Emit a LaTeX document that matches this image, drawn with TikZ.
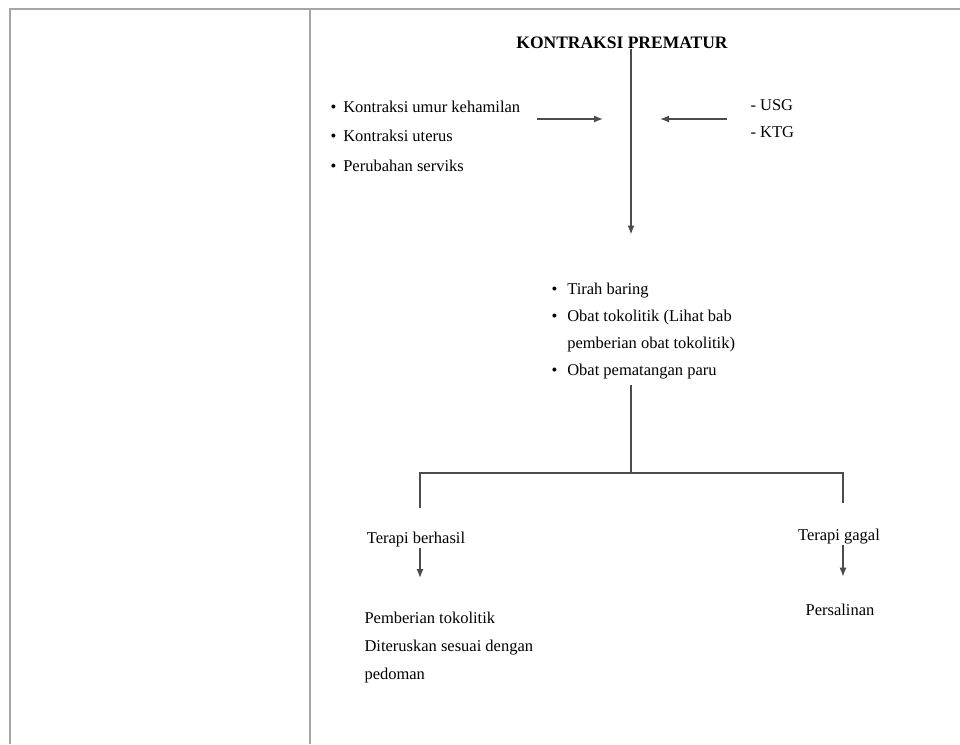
\documentclass[tikz,border=0pt]{standalone}
\usepackage{fontspec}
\setmainfont{Liberation Serif}
\usetikzlibrary{arrows.meta}
\usetikzlibrary{calc}
\tikzset{
every picture/.style={
line width=1pt
}}
\tikzset{
  tabline/.style={draw=gray!70, line width=2pt},
  flow/.style={draw=black!70, line width=1.3pt},
  arr/.style={flow, -{Latex[length=9pt,width=7pt]}},
  txt/.style={inner sep=0pt, align=left, font=\fontsize{16.5}{28}\selectfont}
}

\begin{document}
\begin{tikzpicture}[x=1pt,y=-1pt]
  \useasboundingbox (0,0) rectangle (960,744);

  % table frame
  \draw [tabline] (10,744) -- (10,9) -- (960,9);
  \draw [tabline] (310,9) -- (310,744);

  % main axis of the chart
  \coordinate (axis) at (631,0);
  \node [txt, font=\fontsize{17.5}{20}\selectfont\bfseries] at (622,43) (title) {KONTRAKSI PREMATUR};

  \node [txt, anchor=west, font=\fontsize{16.5}{29.5}\selectfont] at (330,136) (gejala) {\begin{tabular}{@{}l@{\hspace{7pt}}l@{}}
    \textbullet & Kontraksi umur kehamilan\\
    \textbullet & Kontraksi uterus\\
    \textbullet & Perubahan serviks
  \end{tabular}};

  \node [txt, anchor=west, font=\fontsize{16.5}{27}\selectfont] at (750,119) (periksa) {- USG\\- KTG};

  \node [txt, anchor=west, font=\fontsize{16.5}{27}\selectfont] at (551,330) (tatalaksana) {\begin{tabular}{@{}l@{\hspace{10pt}}l@{}}
    \textbullet & Tirah baring\\
    \textbullet & Obat tokolitik (Lihat bab\\
                & pemberian obat tokolitik)\\
    \textbullet & Obat pematangan paru
  \end{tabular}};

  \coordinate (kiri) at (537,119);
  \coordinate (kanan) at (727,119);
  \draw [arr, shorten >=28pt] (kiri) -- (kiri -| axis);
  \draw [arr, shorten >=29pt] (kanan) -- (kanan -| axis);
  \draw [arr, shorten >=41pt] (title.south -| axis) -- (tatalaksana.north -| axis);

  % branches
  \coordinate (cabang) at (631,473);
  \coordinate (bL) at (420,508);
  \coordinate (bR) at (843,503);
  \draw [flow] (tatalaksana.south -| axis) -- (cabang);
  \draw [flow] (bL) |- (cabang) -| (bR);

  \node [txt] at (416,540) (berhasil) {Terapi berhasil};
  \node [txt] at (839,537) (gagal) {Terapi gagal};

  \node [txt, anchor=west] at (364,648) (lanjut) {Pemberian tokolitik\\Diteruskan sesuai dengan\\pedoman};
  \node [txt] at (840,610) (salin) {Persalinan};

  \draw [arr, shorten >=34pt] (berhasil.south -| bL) -- (lanjut.north -| bL);
  \draw [arr, shorten >=27pt] (gagal.south -| bR) -- (salin.north -| bR);

\end{tikzpicture}
\end{document}
